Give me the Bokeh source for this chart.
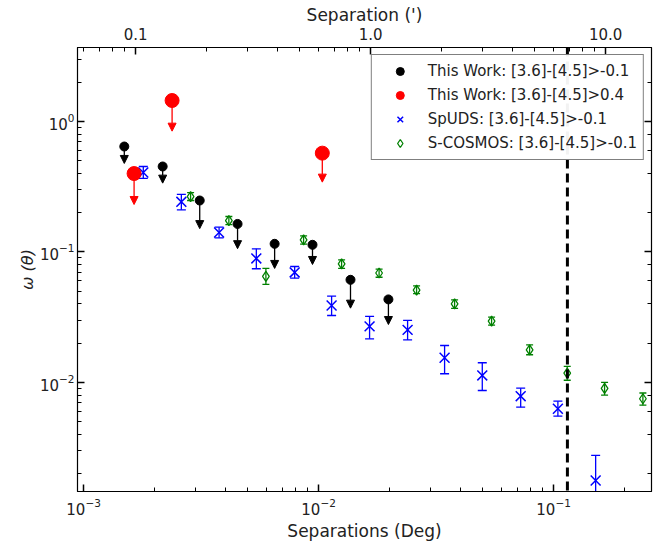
import numpy as np
from bokeh.plotting import figure
from bokeh.models import (ColumnDataSource, Range1d, LogAxis, LogScale, FixedTicker,
                          Whisker, TeeHead, Arrow, NormalHead, Span, Legend, LegendItem,
                          PrintfTickFormatter, CustomJSTickFormatter)
from bokeh.embed import file_html
from bokeh.resources import INLINE

# ---- data (separation in degrees, omega(theta)) ----
# This Work: [3.6]-[4.5]>-0.1  (upper limits)
tw1_sep = [0.00149, 0.00217, 0.00312, 0.00452, 0.00650, 0.00942, 0.01367, 0.01982]
tw1_w = [0.643, 0.452, 0.248, 0.164, 0.1155, 0.1135, 0.0612, 0.0433]
tw1_lim = [0.477, 0.337, 0.151, 0.106, 0.0748, 0.0802, 0.0371, 0.0278]

# This Work: [3.6]-[4.5]>0.4  (upper limits)
tw2_sep = [0.00164, 0.00238, 0.01037]
tw2_w = [0.399, 1.448, 0.572]
tw2_lim = [0.231, 0.843, 0.343]

# SpUDS: [3.6]-[4.5]>-0.1
sp_sep = [0.001795, 0.002606, 0.003772, 0.005433, 0.00791, 0.01136, 0.01648,
          0.02392, 0.03437, 0.04972, 0.07244, 0.1043, 0.1510]
sp_w = [0.4066, 0.2424, 0.1410, 0.0892, 0.0697, 0.0389, 0.0269,
        0.0253, 0.01546, 0.01132, 0.00785, 0.00629, 0.001774]
sp_hi = [0.452, 0.276, 0.155, 0.1058, 0.0774, 0.0459, 0.0321,
         0.0299, 0.0192, 0.01416, 0.00904, 0.00719, 0.00276]
sp_lo = [0.366, 0.2105, 0.1284, 0.0744, 0.063, 0.0326, 0.0216,
         0.0212, 0.01166, 0.00868, 0.00647, 0.00552, 0.0008]

# S-COSMOS: [3.6]-[4.5]>-0.1
sc_sep = [0.002853, 0.004151, 0.005967, 0.008634, 0.01253, 0.01809, 0.02612,
          0.03791, 0.05447, 0.07906, 0.1143, 0.1648, 0.2399]
sc_w = [0.266, 0.174, 0.065, 0.124, 0.081, 0.069, 0.051,
        0.040, 0.0295, 0.0178, 0.0118, 0.0090, 0.0075]
sc_hi = [0.285, 0.187, 0.0748, 0.133, 0.087, 0.074, 0.055,
         0.043, 0.0317, 0.0194, 0.0133, 0.0100, 0.0083]
sc_lo = [0.248, 0.162, 0.0564, 0.115, 0.075, 0.064, 0.048,
         0.037, 0.0275, 0.0163, 0.0104, 0.0080, 0.0067]

vline_deg = 0.1145
x_min, x_max = 0.000942, 0.261
y_min, y_max = 0.00146, 3.69
top_ticks = [0.1, 1.0, 10.0]
top_minor = [0.06, 0.07, 0.08, 0.09, 0.2, 0.3, 0.4, 0.5, 0.6, 0.7, 0.8, 0.9,
             2, 3, 4, 5, 6, 7, 8, 9, 20]

FONT = "DejaVu Sans"

p = figure(width=665, height=544, x_axis_type="log", y_axis_type="log",
           x_range=Range1d(x_min, x_max), y_range=Range1d(y_min, y_max),
           output_backend="svg", toolbar_location=None,
           min_border_left=77, min_border_right=14, min_border_top=47, min_border_bottom=53)
p.background_fill_color = "white"
p.border_fill_color = "white"
p.outline_line_color = "black"
p.outline_line_width = 1.2
p.xgrid.visible = False
p.ygrid.visible = False

def style_axis(ax):
    ax.axis_line_color = "black"
    ax.major_tick_in = 7
    ax.major_tick_out = 0
    ax.minor_tick_in = 4
    ax.minor_tick_out = 0
    ax.major_tick_line_color = "black"
    ax.minor_tick_line_color = "black"
    ax.major_tick_line_width = 1.5
    ax.major_label_text_font = FONT
    ax.major_label_text_font_size = "15px"
    ax.major_label_text_color = "#222222"
    ax.axis_label_text_font = FONT
    ax.axis_label_text_font_size = "17px"
    ax.axis_label_text_font_style = "normal"
    ax.axis_label_text_color = "#222222"

xb = p.xaxis[0]
style_axis(xb)
xb.axis_label = "Separations (Deg)"
xb.major_label_standoff = 6
xb.axis_label_standoff = 3

yl = p.yaxis[0]
style_axis(yl)
yl.axis_label = "ω (θ)"
yl.axis_label_text_font_style = "italic"
yl.axis_label_text_font_size = "16px"
yl.major_label_standoff = 3
yl.axis_label_standoff = 0

# top axis in arcminutes
p.extra_x_ranges = {"arcmin": Range1d(x_min * 60, x_max * 60)}
p.extra_x_scales = {"arcmin": LogScale()}
top = LogAxis(x_range_name="arcmin",
              ticker=FixedTicker(ticks=top_ticks, minor_ticks=top_minor),
              formatter=PrintfTickFormatter(format="%.1f"),
              axis_label="Separation (')")
style_axis(top)
top.major_label_standoff = 8
top.axis_label_standoff = 0
p.add_layout(top, "above")

right = LogAxis(formatter=CustomJSTickFormatter(code="return ''"))
style_axis(right)
right.major_label_standoff = 0
p.add_layout(right, "right")

# vertical dashed line
p.add_layout(Span(location=vline_deg, dimension="height", line_color="black",
                  line_width=3, line_dash="9 5"))

# S-COSMOS
sc_src = ColumnDataSource(dict(x=sc_sep, y=sc_w, hi=sc_hi, lo=sc_lo))
p.add_layout(Whisker(base="x", upper="hi", lower="lo", source=sc_src, dimension="height",
                     line_color="green", line_width=1.3,
                     upper_head=TeeHead(size=7, line_color="green", line_width=1.3),
                     lower_head=TeeHead(size=7, line_color="green", line_width=1.3)))
r_sc = p.scatter("x", "y", source=sc_src, marker="diamond", size=10,
                 fill_color=None, line_color="green", line_width=1.3)

# SpUDS
sp_src = ColumnDataSource(dict(x=sp_sep, y=sp_w, hi=sp_hi, lo=sp_lo))
p.add_layout(Whisker(base="x", upper="hi", lower="lo", source=sp_src, dimension="height",
                     line_color="blue", line_width=1.3,
                     upper_head=TeeHead(size=9, line_color="blue", line_width=1.3),
                     lower_head=TeeHead(size=9, line_color="blue", line_width=1.3)))
r_sp = p.scatter("x", "y", source=sp_src, marker="x", size=14,
                 line_color="blue", line_width=1.5)

# This Work >-0.1
tw1_src = ColumnDataSource(dict(x=tw1_sep, y=tw1_w, lim=tw1_lim))
p.add_layout(Arrow(x_start="x", y_start="y", x_end="x", y_end="lim", source=tw1_src,
                   line_color="black", line_width=1.3,
                   end=NormalHead(size=8, fill_color="black", line_color="black")))
r_tw1 = p.scatter("x", "y", source=tw1_src, marker="circle", size=9,
                  fill_color="black", line_color="black")

# This Work >0.4
tw2_src = ColumnDataSource(dict(x=tw2_sep, y=tw2_w, lim=tw2_lim))
p.add_layout(Arrow(x_start="x", y_start="y", x_end="x", y_end="lim", source=tw2_src,
                   line_color="red", line_width=1.3,
                   end=NormalHead(size=8, fill_color="red", line_color="red")))
r_tw2 = p.scatter("x", "y", source=tw2_src, marker="circle", size=14,
                  fill_color="red", line_color="red")

legend = Legend(items=[
    LegendItem(label="This Work: [3.6]-[4.5]>-0.1", renderers=[r_tw1]),
    LegendItem(label="This Work: [3.6]-[4.5]>0.4", renderers=[r_tw2]),
    LegendItem(label="SpUDS: [3.6]-[4.5]>-0.1", renderers=[r_sp]),
    LegendItem(label="S-COSMOS: [3.6]-[4.5]>-0.1", renderers=[r_sc]),
], location="top_right")
legend.label_text_font = FONT
legend.label_text_font_size = "15px"
legend.label_text_color = "#222222"
legend.border_line_color = "black"
legend.border_line_width = 1
legend.glyph_width = 44
legend.glyph_height = 20
legend.spacing = 4
legend.padding = 6
legend.margin = 7
legend.label_standoff = 6
p.add_layout(legend)

open("out.html", "w").write(file_html(p, INLINE))
